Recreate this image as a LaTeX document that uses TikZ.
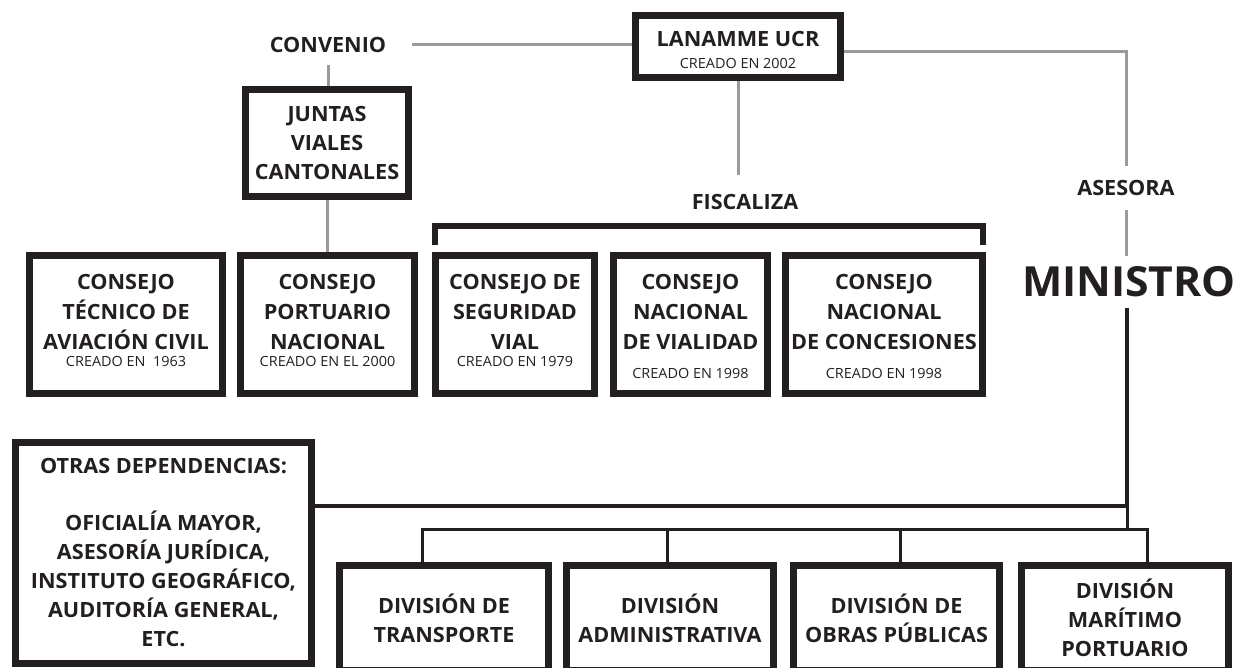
\documentclass[tikz,border=0pt]{standalone}
\usepackage{fontspec}
\setmainfont{Open Sans}[FakeStretch=1.03]
\definecolor{ink}{HTML}{231F20}
\definecolor{wire}{HTML}{9A9A9A}
\newcommand{\creado}[1]{{\fontsize{14}{17}\selectfont\mdseries #1}}

\begin{document}
\begin{tikzpicture}[x=1pt, y=-1pt,
  box/.style={draw=ink, line width=7pt, inner sep=0pt, align=center, text=ink,
    font=\fontsize{21}{29}\selectfont\bfseries},
  consejo/.style={box, minimum height=138, font=\fontsize{21}{30}\selectfont\bfseries},
  lbl/.style={inner sep=0pt, text=ink, font=\fontsize{21}{29}\selectfont\bfseries},
  gline/.style={draw=wire, line width=3pt},
  bline/.style={draw=ink, line width=4.5pt},
  tline/.style={draw=ink, line width=3pt},
  brk/.style={draw=ink, line width=6pt}]
\useasboundingbox (0,0) rectangle (1237,668);
\clip (0,0) rectangle (1237,668);

% top
\node[box, minimum width=205, minimum height=62] (lanamme) at (738,46.5) {\rule{0pt}{22pt}LANAMME UCR\\[-7pt]\creado{CREADO EN 2002}};
\node[lbl, inner xsep=26pt, inner ysep=12pt] (convenio) at (328,45) {CONVENIO};
\node[box, minimum width=163, minimum height=107] (juntas) at (327,143) {JUNTAS\\VIALES\\CANTONALES};
\node[lbl, inner ysep=19pt] (fiscaliza) at (745,202) {FISCALIZA};
\node[lbl, inner ysep=14pt] (asesora) at (1126,188) {ASESORA};
\node[lbl, inner ysep=11pt, font=\fontsize{41.5}{50}\selectfont\bfseries] (ministro) at (1129,282) {MINISTRO};

% consejos
\node[consejo, minimum width=193] (aviacion) at (126,324.5) {CONSEJO\\TÉCNICO DE\\AVIACIÓN CIVIL\\[-13.5pt]\creado{CREADO EN\ \ 1963}\rule[-8.5pt]{0pt}{0pt}};
\node[consejo, minimum width=174] (portuario) at (327.5,324.5) {CONSEJO\\PORTUARIO\\NACIONAL\\[-13.5pt]\creado{CREADO EN EL 2000}\rule[-8.5pt]{0pt}{0pt}};
\node[consejo, minimum width=159] (seguridad) at (515,324.5) {CONSEJO DE\\SEGURIDAD\\VIAL\\[-13.5pt]\creado{CREADO EN 1979}\rule[-8.5pt]{0pt}{0pt}};
\node[consejo, minimum width=154] (vialidad) at (690.5,324.5) {\rule{0pt}{19.5pt}CONSEJO\\NACIONAL\\DE VIALIDAD\\[-0.5pt]\creado{CREADO EN 1998}};
\node[consejo, minimum width=197] (concesiones) at (884,324.5) {\rule{0pt}{19.5pt}CONSEJO\\NACIONAL\\DE CONCESIONES\\[-0.5pt]\creado{CREADO EN 1998}};

% bottom
\node[box, minimum width=296, minimum height=221] (otras) at (163.5,553) {OTRAS DEPENDENCIAS:\\[28pt]OFICIALÍA MAYOR,\\ASESORÍA JURÍDICA,\\INSTITUTO GEOGRÁFICO,\\AUDITORÍA GENERAL,\\ETC.};
\node[box, minimum width=209, minimum height=105] (transporte) at (444,618) {DIVISIÓN DE\\TRANSPORTE};
\node[box, minimum width=207, minimum height=105] (administrativa) at (670,618) {DIVISIÓN\\ADMINISTRATIVA};
\node[box, minimum width=206, minimum height=105] (obras) at (896.5,618) {DIVISIÓN DE\\OBRAS PÚBLICAS};
\node[box, minimum width=207, minimum height=105] (maritimo) at (1125,618) {DIVISIÓN\\MARÍTIMO\\PORTUARIO};

\coordinate (hub) at (1127,506);
\coordinate (bus) at (1127,529);

% gray links
\draw[gline] (convenio.east) -- (convenio.east -| lanamme.west);
\draw[gline] (convenio.south) -- (convenio.south |- juntas.north);
\draw[gline] (juntas.south) -- (juntas.south |- portuario.north);
\draw[gline] (lanamme.south) -- (lanamme.south |- fiscaliza.north);
\draw[gline] ([yshift=-5.5pt]lanamme.east) -| (asesora.north);
\draw[gline] (asesora.south) -- (asesora.south |- ministro.north);

% fiscaliza bracket
\draw[brk] ([shift={(3pt,7pt)}]seguridad.north west) |- ([shift={(-3pt,26pt)}]concesiones.north east) -- ([shift={(-3pt,7pt)}]concesiones.north east);

% ministro tree
\draw[bline] (ministro.south -| hub) -- (hub) -- (hub -| otras.east);
\draw[tline] (hub) -- (bus);
\draw[tline] ([xshift=-22pt]transporte.north) |- (bus) -| ([xshift=22pt]maritimo.north);
\draw[tline] ([xshift=-3pt]administrativa.north) -- ([xshift=-3pt]administrativa.north |- bus);
\draw[tline] ([xshift=3.5pt]obras.north) -- ([xshift=3.5pt]obras.north |- bus);
\end{tikzpicture}
\end{document}
